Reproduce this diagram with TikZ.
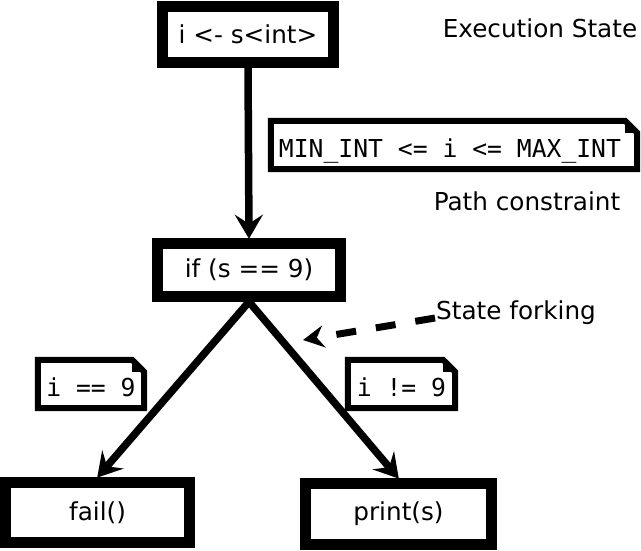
\documentclass[tikz,border=0pt]{standalone}
\usepackage{fontspec}
\setmainfont{DejaVu Sans}
\setmonofont{DejaVu Sans Mono}
\usetikzlibrary{arrows.meta}
\tikzset{
  box/.style={draw, line width=10.5pt, inner sep=0pt, font=\fontsize{24.7}{30}\selectfont},
  notebox/.style={inner sep=0pt, text height=25pt, text depth=0pt, font=\fontsize{24.7}{30}\selectfont\ttfamily},
  lbl/.style={inner sep=0pt, font=\fontsize{24.7}{30}\selectfont},
  conn/.style={line width=7.5pt, -{Stealth[length=24pt, width=28pt, inset=9pt]}, shorten >=-0.5pt},
}
\newcommand{\notepath}[1]{%
  \draw[line width=6pt, line join=miter] (#1.south west) -- (#1.north west) -- ([xshift=-12pt]#1.north east) -- ([yshift=-12pt]#1.north east) -- (#1.south east) -- cycle;
  \fill ([xshift=-12pt]#1.north east) -- ([xshift=-12pt,yshift=-12pt]#1.north east) -- ([yshift=-12pt]#1.north east) -- cycle;
}
\begin{document}
\begin{tikzpicture}[x=1pt, y=-1pt]
\useasboundingbox (0,0) rectangle (641,550);
\node[box, minimum width=171pt, minimum height=56pt] (A) at (248,34.5) {i <- s<int>};
\node[box, minimum width=183pt, minimum height=53pt] (B) at (249,270) {if (s == 9)};
\node[box, minimum width=184pt, minimum height=60pt] (F) at (97.5,512.5) {fail()};
\node[box, minimum width=186pt, minimum height=61pt] (P) at (398.5,514) {print(s)};
\node[notebox, minimum width=366pt, minimum height=48pt] (N1) at (454,145) {MIN\_INT <= i <= MAX\_INT\kern8pt};
\node[notebox, minimum width=106pt, minimum height=48pt] (N2) at (91,384) {i == 9};
\node[notebox, minimum width=107pt, minimum height=48pt] (N3) at (401.5,384) {i != 9};
\notepath{N1}
\notepath{N2}
\notepath{N3}
\node[lbl] (es) at (540,28) {Execution State};
\node[lbl] (pc) at (527,201) {Path constraint};
\node[lbl, anchor=west] (sf) at (436,313) {State forking};
\coordinate (fs) at (435,318);
\coordinate (ft) at (303,340);
\draw[conn] (A.south) -- (B.north);
\draw[conn] (B.south) -- (F.north);
\draw[conn] (B.south) -- (P.north);
\draw[line width=7pt, dash pattern=on 20pt off 20pt, -{Stealth[length=21pt, width=22pt, inset=7pt]}] (fs) -- (ft);
\end{tikzpicture}
\end{document}
